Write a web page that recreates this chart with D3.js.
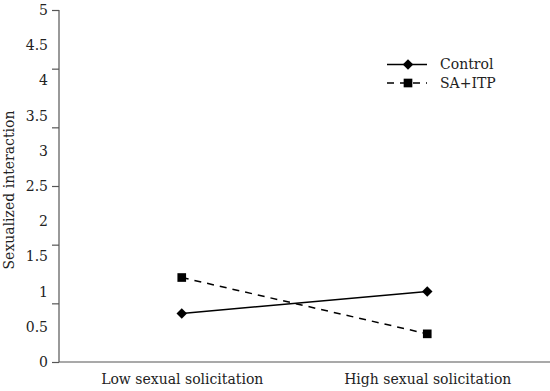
<!DOCTYPE html>
<html>
<head>
<meta charset="utf-8">
<script src="https://cdn.jsdelivr.net/npm/d3@7"></script>
<style>
  body { margin: 0; background: #fff; }
  svg { display: block; font-family: "DejaVu Serif", serif; }
</style>
</head>
<body>
<svg width="550" height="391"></svg>
<script>
'use strict';

// data
const categories = ["Low sexual solicitation", "High sexual solicitation"];
const control = [0.69, 1.0];
const saItp = [1.2, 0.4];
const yLabels = [0, 0.5, 1, 1.5, 2, 2.5, 3, 3.5, 4, 4.5, 5];

let svg = d3.select("svg"),
    width = +svg.attr("width"),
    height = +svg.attr("height"),
    marge = {top: 10, bottom: 29, left: 59, right: 0};

let y = d3.scaleLinear().domain([0, 5]).range([height - marge.bottom, marge.top]);
let x = d3.scalePoint().domain(categories).range([marge.left, width - marge.right]).padding(0.5);

// tick marks (6 intervals) without labels
let tickAxis = svg.append("g")
    .attr("transform", "translate(" + marge.left + ",0)")
    .call(d3.axisLeft(y).tickValues(d3.range(7).map(i => i * 5 / 6)).tickSize(7).tickFormat(""));
tickAxis.selectAll("path, line").attr("stroke", "#555").attr("stroke-width", 1.2);
tickAxis.select(".domain").attr("d", "M0," + y(5) + "V" + y(0));

// labels every 0.5
let labelAxis = svg.append("g")
    .attr("transform", "translate(" + marge.left + ",0)")
    .call(d3.axisLeft(y).tickValues(yLabels).tickSize(0).tickPadding(11)
        .tickFormat(d3.format("")));
labelAxis.select(".domain").remove();
labelAxis.selectAll("text")
    .attr("font-family", "DejaVu Serif")
    .attr("font-size", 14)
    .attr("fill", "#222");

// x axis
let xAxis = svg.append("g")
    .attr("transform", "translate(0," + y(0) + ")")
    .call(d3.axisBottom(x).tickSize(0).tickPadding(12));
xAxis.select(".domain").attr("stroke", "#555").attr("stroke-width", 1.2)
    .attr("d", "M" + marge.left + ",0H" + width);
xAxis.selectAll("text")
    .attr("font-family", "DejaVu Serif")
    .attr("font-size", 14)
    .attr("fill", "#222");

// y title
svg.append("text")
    .attr("transform", "translate(14," + (y(2.5) + 4) + ") rotate(-90)")
    .attr("text-anchor", "middle")
    .attr("font-size", 14)
    .attr("fill", "#222")
    .text("Sexualized interaction");

let line = d3.line().x((d, i) => x(categories[i])).y(d => y(d));

svg.append("path").datum(control)
    .attr("d", line).attr("fill", "none").attr("stroke", "#000").attr("stroke-width", 1.5);
svg.append("path").datum(saItp)
    .attr("d", line).attr("fill", "none").attr("stroke", "#000").attr("stroke-width", 1.5)
    .attr("stroke-dasharray", "7,6");

let diamond = d3.symbol().type(d3.symbolDiamond2).size(70);
let square = d3.symbol().type(d3.symbolSquare).size(75);

svg.append("g").selectAll("path")
    .data(control).enter().append("path")
    .attr("d", diamond)
    .attr("transform", (d, i) => "translate(" + x(categories[i]) + "," + y(d) + ")")
    .attr("fill", "#000");
svg.append("g").selectAll("path")
    .data(saItp).enter().append("path")
    .attr("d", square)
    .attr("transform", (d, i) => "translate(" + x(categories[i]) + "," + y(d) + ")")
    .attr("fill", "#000");

// legend
const legendItems = [
  {name: "Control", dash: null, sym: diamond},
  {name: "SA+ITP", dash: "7,6", sym: square}
];
let legend = svg.append("g").attr("transform", "translate(387,64.5)");
let li = legend.selectAll("g").data(legendItems).enter().append("g")
    .attr("transform", (d, i) => "translate(0," + i * 18.5 + ")");
li.append("line")
    .attr("x1", 0).attr("x2", 40)
    .attr("stroke", "#000").attr("stroke-width", 1.5)
    .attr("stroke-dasharray", d => d.dash);
li.append("path")
    .attr("d", d => d.sym())
    .attr("transform", "translate(21,0)")
    .attr("fill", "#000");
li.append("text")
    .attr("x", 53).attr("dy", "0.35em")
    .attr("font-size", 14)
    .attr("fill", "#222")
    .text(d => d.name);
</script>
</body>
</html>
